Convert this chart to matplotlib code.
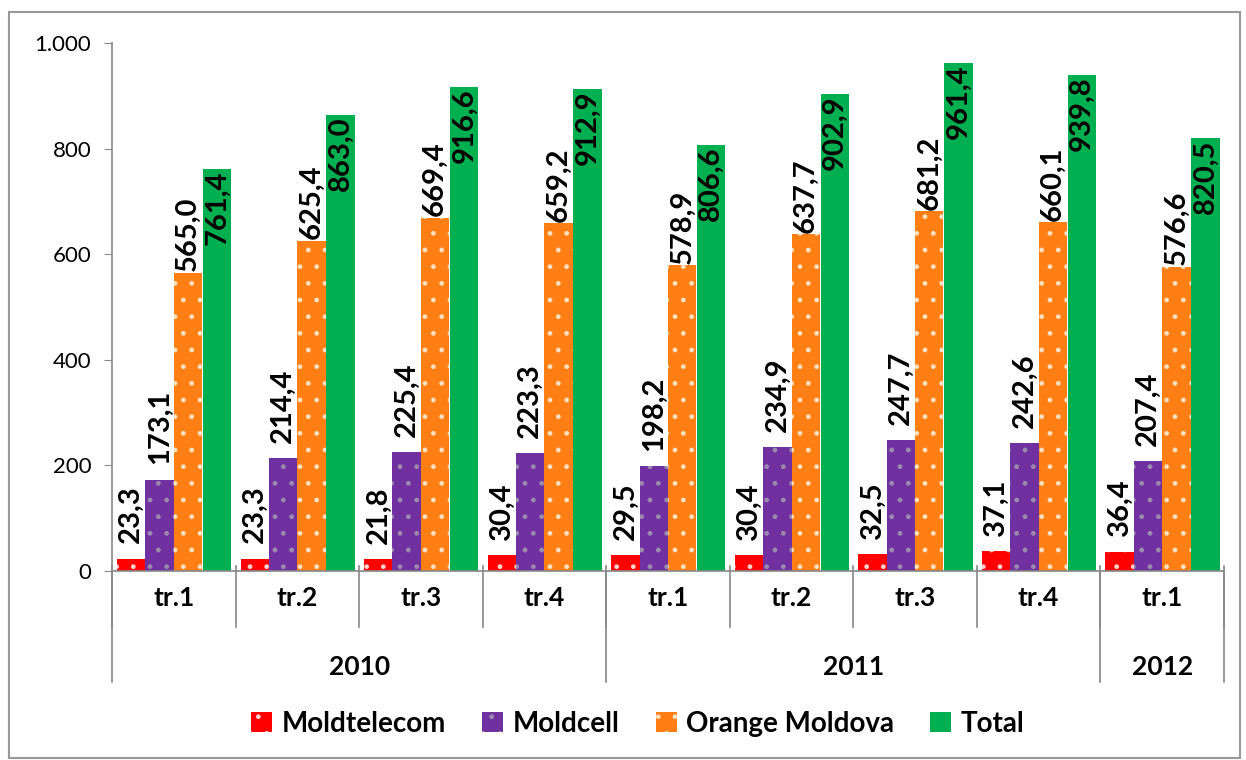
import numpy as np
import matplotlib
matplotlib.use("Agg")
import matplotlib.pyplot as plt
from matplotlib.patches import Rectangle
from matplotlib.ticker import FuncFormatter

# date
quarters = ["tr.1", "tr.2", "tr.3", "tr.4", "tr.1", "tr.2", "tr.3", "tr.4", "tr.1"]
years = ["2010", "2011", "2012"]
year_spans = [4, 4, 1]
series_names = ["Moldtelecom", "Moldcell", "Orange Moldova", "Total"]
moldtelecom = [23.3, 23.3, 21.8, 30.4, 29.5, 30.4, 32.5, 37.1, 36.4]
moldcell = [173.1, 214.4, 225.4, 223.3, 198.2, 234.9, 247.7, 242.6, 207.4]
orange = [565.0, 625.4, 669.4, 659.2, 578.9, 637.7, 681.2, 660.1, 576.6]
total = [761.4, 863.0, 916.6, 912.9, 806.6, 902.9, 961.4, 939.8, 820.5]

colors = ["#FF0000", "#7030A0", "#FF7F15", "#00B050"]
hatch_colors = ["#FFD0D0", "#9C8AAE", "#FFE0C0", "#00B050"]
hatches = [".", ".", ".", None]

plt.rcParams["font.family"] = ["Lato", "DejaVu Sans"]
plt.rcParams["hatch.linewidth"] = 1.0

fig = plt.figure(figsize=(12.46, 7.6), dpi=100)
ax = fig.add_axes([0.0899, 0.2487, 0.8924, 0.6947])

x = np.arange(len(quarters))
width = 0.23
offsets = [-0.345, -0.115, 0.115, 0.35]
data = [moldtelecom, moldcell, orange, total]

for i, vals in enumerate(data):
    bars = ax.bar(x + offsets[i], vals, width, color=colors[i], label=series_names[i],
                  hatch=hatches[i], edgecolor=hatch_colors[i], linewidth=0)
    for b, v in zip(bars, vals):
        txt = f"{v:.1f}".replace(".", ",")
        if i == 3:
            ax.annotate(txt, (b.get_x() + b.get_width() / 2, v), xytext=(0, -1),
                        textcoords="offset points", rotation=90, ha="center", va="top",
                        fontsize=21, fontweight="bold")
        else:
            off = 1 if i == 2 else 11
            ax.annotate(txt, (b.get_x() + b.get_width() / 2, v), xytext=(0, off),
                        textcoords="offset points", rotation=90, ha="center", va="bottom",
                        fontsize=21, fontweight="bold")

ax.set_xlim(-0.5, len(quarters) - 0.5)
ax.set_ylim(0, 1000)
ax.set_yticks(range(0, 1001, 200))
ax.yaxis.set_major_formatter(FuncFormatter(lambda v, p: f"{int(v):,}".replace(",", ".")))
ax.tick_params(axis="y", labelsize=16, length=6, color="#888888", pad=9)
ax.set_xticks([])
for s in ["top", "right"]:
    ax.spines[s].set_visible(False)
for s in ["left", "bottom"]:
    ax.spines[s].set_color("#888888")
    ax.spines[s].set_linewidth(1.2)

# categorii pe doua nivele
trans = ax.get_xaxis_transform()
for k in range(len(quarters) + 1):
    ax.plot([k - 0.5, k - 0.5], [0.01, -0.106], transform=trans, color="#888888",
            lw=1.2, clip_on=False)
for k, q in enumerate(quarters):
    ax.text(k, -0.051, q, transform=trans, ha="center", va="center",
            fontsize=19, fontweight="bold")
start = 0
for y, n in zip(years, year_spans):
    ax.plot([start - 0.5, start - 0.5], [0, -0.21], transform=trans, color="#888888",
            lw=1.2, clip_on=False)
    ax.text(start + n / 2 - 0.5, -0.182, y, transform=trans, ha="center", va="center",
            fontsize=19, fontweight="bold")
    start += n
ax.plot([start - 0.5, start - 0.5], [0, -0.21], transform=trans, color="#888888",
        lw=1.2, clip_on=False)

leg = fig.legend(loc="center", bbox_to_anchor=(0.512, 0.048), ncol=4, frameon=False,
                 prop={"size": 20, "weight": "bold"}, handlelength=0.75, handleheight=0.75,
                 handletextpad=0.35, columnspacing=1.3)

fig.patches.append(Rectangle((0.007, 0.003), 0.988, 0.981, transform=fig.transFigure,
                             fill=False, edgecolor="#999999", lw=1.5))

fig.savefig("out.png", dpi=100)
